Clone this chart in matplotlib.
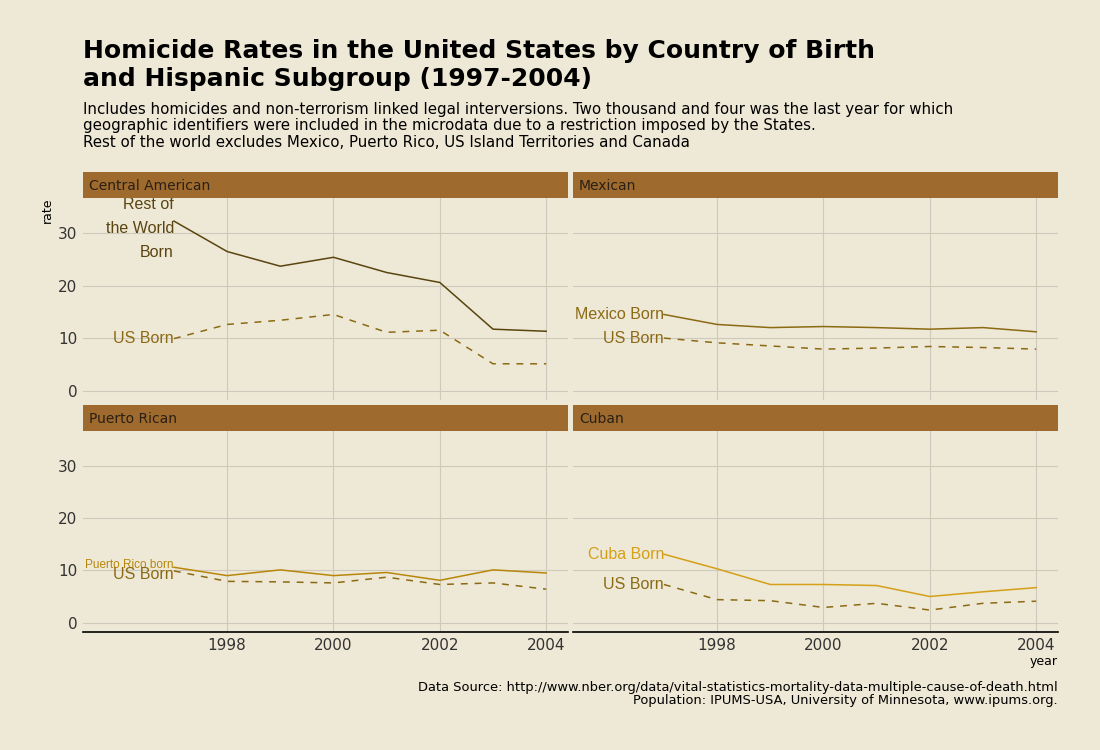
import matplotlib
matplotlib.use('Agg')
import matplotlib.pyplot as plt

# data
years = [1997, 1998, 1999, 2000, 2001, 2002, 2003, 2004]

ca_foreign = [32.3, 26.5, 23.7, 25.4, 22.5, 20.6, 11.7, 11.3]
ca_us = [9.9, 12.6, 13.4, 14.5, 11.1, 11.5, 5.1, 5.1]

mx_foreign = [14.5, 12.6, 12.0, 12.2, 12.0, 11.7, 12.0, 11.2]
mx_us = [10.0, 9.1, 8.5, 7.9, 8.1, 8.4, 8.2, 7.9]

pr_foreign = [10.6, 9.0, 10.1, 9.0, 9.6, 8.1, 10.1, 9.5]
pr_us = [9.9, 7.9, 7.8, 7.6, 8.7, 7.3, 7.6, 6.4]

cu_foreign = [13.1, 10.3, 7.3, 7.3, 7.1, 5.0, 5.9, 6.7]
cu_us = [7.3, 4.4, 4.2, 2.9, 3.7, 2.4, 3.7, 4.1]

panels = ['Central American', 'Mexican', 'Puerto Rican', 'Cuban']
foreign_labels = ['Rest of\nthe World\nBorn', 'Mexico Born', 'Puerto Rico born', 'Cuba Born']
foreign_series = [ca_foreign, mx_foreign, pr_foreign, cu_foreign]
us_series = [ca_us, mx_us, pr_us, cu_us]
foreign_colors = ['#5a4510', '#8b6a14', '#b8860b', '#d4a017']
us_color = '#8b6a14'

bg = '#eee8d6'
strip_col = '#9e6a2e'
grid_col = '#cfc9bd'

fig = plt.figure(figsize=(11, 7.5), dpi=100, facecolor=bg)
W, H = 1100.0, 750.0

# pixel boxes for the four panels: (left, top, right, bottom)
boxes = [(83, 198, 568, 400), (573, 198, 1058, 400),
         (83, 431, 568, 632), (573, 431, 1058, 632)]

for i, (name, box) in enumerate(zip(panels, boxes)):
    l, t, r, b = box
    ax = fig.add_axes([l / W, 1 - b / H, (r - l) / W, (b - t) / H])
    ax.set_facecolor(bg)
    ax.plot(years, foreign_series[i], color=foreign_colors[i], lw=1.1)
    ax.plot(years, us_series[i], color=us_color, lw=1.1, linestyle=(0, (4.5, 4.5)))
    ax.set_xlim(1995.29, 2004.41)
    ax.set_ylim(-1.8, 36.7)
    ax.set_xticks([1998, 2000, 2002, 2004])
    ax.set_yticks([0, 10, 20, 30])
    ax.grid(True, color=grid_col, lw=0.8)
    ax.set_axisbelow(True)
    for s in ax.spines.values():
        s.set_visible(False)
    ax.tick_params(length=0, labelsize=11, labelcolor='#333333', pad=4)
    if i < 2:
        ax.tick_params(labelbottom=False)
    else:
        ax.spines['bottom'].set_visible(True)
        ax.spines['bottom'].set_color('black')
        ax.spines['bottom'].set_linewidth(1.2)
    if i % 2 == 1:
        ax.tick_params(labelleft=False)

    # direct labels at the first year
    fy = foreign_series[i][0]
    uy = us_series[i][0]
    fsize = 11.5
    if i == 0:
        fy = fy - 1.5
    if i == 2:
        fy = fy + 0.5
        uy = uy - 0.7
        fsize = 8.5
    ax.text(1997, fy, foreign_labels[i], ha='right', va='center', color=foreign_colors[i],
            fontsize=fsize, family='Liberation Sans', linespacing=1.75)
    ax.text(1997, uy, 'US Born', ha='right', va='center', color=us_color,
            fontsize=11.5, family='Liberation Sans')

    # strip
    sax = fig.add_axes([l / W, 1 - t / H, (r - l) / W, 26 / H])
    sax.set_facecolor(strip_col)
    sax.set_xticks([])
    sax.set_yticks([])
    for s in sax.spines.values():
        s.set_visible(False)
    sax.text(6 / (r - l), 0.45, name, transform=sax.transAxes, ha='left', va='center',
             fontsize=10, color='#2a2015')

fig.text(47 / W, 1 - 210 / H, 'rate', rotation=90, ha='center', va='center', fontsize=9)
fig.text(1058 / W, 1 - 662 / H, 'year', ha='right', va='center', fontsize=9)

fig.text(83 / W, 1 - 39 / H, 'Homicide Rates in the United States by Country of Birth\n'
         'and Hispanic Subgroup (1997-2004)', ha='left', va='top', fontsize=18,
         fontweight='bold', linespacing=1.2)
fig.text(83 / W, 1 - 102 / H,
         'Includes homicides and non-terrorism linked legal interversions. Two thousand and four was the last year for which\n'
         'geographic identifiers were included in the microdata due to a restriction imposed by the States.\n'
         'Rest of the world excludes Mexico, Puerto Rico, US Island Territories and Canada',
         ha='left', va='top', fontsize=10.8, linespacing=1.12)
fig.text(1058 / W, 1 - 681 / H,
         'Data Source: http://www.nber.org/data/vital-statistics-mortality-data-multiple-cause-of-death.html\n'
         'Population: IPUMS-USA, University of Minnesota, www.ipums.org.',
         ha='right', va='top', fontsize=9.4, linespacing=1.0)

fig.savefig('out.png', dpi=100, facecolor=bg)
